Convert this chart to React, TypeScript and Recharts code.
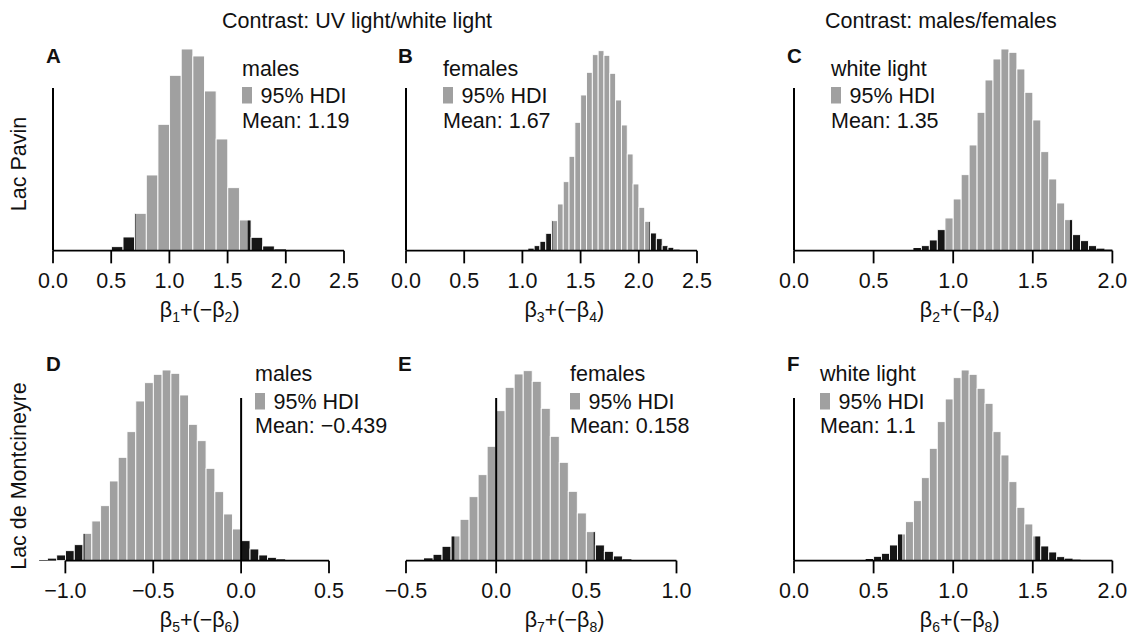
import React from 'react';
import { ComposedChart, Bar, XAxis, YAxis, ReferenceLine } from 'recharts';

const FONT = '"Liberation Sans", Arial, Helvetica, sans-serif';
const GRAY = '#a0a0a0';
const BLACK = '#161616';
const INK = '#111111';

// ---------------- data (bin lower edges, bar heights, 95% HDI) ----------------
const binsA = [0.4, 0.5, 0.6, 0.7, 0.8, 0.9, 1.0, 1.1, 1.2, 1.3, 1.4, 1.5, 1.6, 1.7, 1.8, 1.9];
const countsA = [2, 12, 41, 112, 227, 379, 526, 605, 584, 479, 335, 189, 92, 40, 14, 4];
const hdiA = [0.71, 1.67];

const binsB = [1.0, 1.05, 1.1, 1.15, 1.2, 1.25, 1.3, 1.35, 1.4, 1.45, 1.5, 1.55, 1.6, 1.65, 1.7, 1.75, 1.8, 1.85, 1.9, 1.95, 2.0, 2.05, 2.1, 2.15, 2.2, 2.25, 2.3];
const countsB = [2, 6, 15, 28, 52, 90, 140, 207, 283, 385, 467, 535, 588, 600, 586, 532, 452, 377, 290, 200, 130, 88, 53, 36, 15, 10, 3];
const hdiB = [1.26, 2.09];

const binsC = [0.7, 0.75, 0.8, 0.85, 0.9, 0.95, 1.0, 1.05, 1.1, 1.15, 1.2, 1.25, 1.3, 1.35, 1.4, 1.45, 1.5, 1.55, 1.6, 1.65, 1.7, 1.75, 1.8, 1.85, 1.9, 1.95];
const countsC = [1, 8, 15, 32, 63, 98, 155, 228, 317, 415, 512, 575, 605, 595, 545, 475, 392, 297, 215, 143, 93, 48, 30, 15, 6, 3];
const hdiC = [0.955, 1.733];

const binsD = [-1.15, -1.1, -1.05, -1.0, -0.95, -0.9, -0.85, -0.8, -0.75, -0.7, -0.65, -0.6, -0.55, -0.5, -0.45, -0.4, -0.35, -0.3, -0.25, -0.2, -0.15, -0.1, -0.05, 0.0, 0.05, 0.1, 0.15, 0.2];
const countsD = [2, 6, 17, 30, 48, 82, 119, 165, 239, 310, 387, 479, 534, 559, 572, 562, 497, 409, 360, 277, 207, 140, 95, 60, 35, 17, 10, 4];
const hdiD = [-0.89, 0.0];

const binsE = [-0.45, -0.4, -0.35, -0.3, -0.25, -0.2, -0.15, -0.1, -0.05, 0.0, 0.05, 0.1, 0.15, 0.2, 0.25, 0.3, 0.35, 0.4, 0.45, 0.5, 0.55, 0.6, 0.65, 0.7, 0.75];
const countsE = [2, 7, 19, 43, 74, 124, 192, 258, 343, 450, 520, 560, 570, 538, 457, 373, 295, 208, 143, 87, 47, 28, 14, 4, 1];
const hdiE = [-0.23, 0.54];

const binsF = [0.4, 0.45, 0.5, 0.55, 0.6, 0.65, 0.7, 0.75, 0.8, 0.85, 0.9, 0.95, 1.0, 1.05, 1.1, 1.15, 1.2, 1.25, 1.3, 1.35, 1.4, 1.45, 1.5, 1.55, 1.6, 1.65, 1.7, 1.75];
const countsF = [2, 5, 13, 22, 47, 80, 117, 180, 249, 337, 417, 485, 549, 572, 559, 517, 472, 387, 317, 237, 160, 110, 74, 44, 26, 12, 6, 3];
const hdiF = [0.68, 1.515];

const compValue = 0;
const compLineHeight = 488;

const ticksA = [0, 0.5, 1, 1.5, 2, 2.5];
const ticksB = [0, 0.5, 1, 1.5, 2, 2.5];
const ticksC = [0, 0.5, 1, 1.5, 2];
const ticksD = [-1, -0.5, 0, 0.5];
const ticksE = [-0.5, 0, 0.5, 1];
const ticksF = [0, 0.5, 1, 1.5, 2];

const letters = ['A', 'B', 'C', 'D', 'E', 'F'];
const groups = ['males', 'females', 'white light', 'males', 'females', 'white light'];
const means = ['1.19', '1.67', '1.35', '\u22120.439', '0.158', '1.1'];
const xSubs = [['1', '2'], ['3', '4'], ['2', '4'], ['5', '6'], ['7', '8'], ['6', '8']];
const columnTitles = ['Contrast: UV light/white light', 'Contrast: males/females'];
const rowTitles = ['Lac Pavin', 'Lac de Montcineyre'];

// ---------------- layout ----------------
const W = 1129;
const H = 634;
const Y_MAX = 620;
const PLOT_H = Y_MAX / 3;
const ROW_BASE = [250.7, 560.7];
const MT = 10;
const ML = 30;
const MR = 30;
const AXIS_H = 76;
const FS = 21.5;

type Panel = {
  bins: number[]; counts: number[]; bw: number; hdi: number[]; domain: [number, number];
  ticks: number[]; px: [number, number]; row: number; labelX: number; letterX: number; legendX: number;
};

const panels: Panel[] = [
  { bins: binsA, counts: countsA, bw: 0.1, hdi: hdiA, domain: [0, 2.5], ticks: ticksA, px: [53.3, 344.3], row: 0, labelX: 200, letterX: 46, legendX: 242 },
  { bins: binsB, counts: countsB, bw: 0.05, hdi: hdiB, domain: [0, 2.5], ticks: ticksB, px: [405.7, 696.7], row: 0, labelX: 564, letterX: 398, legendX: 443 },
  { bins: binsC, counts: countsC, bw: 0.05, hdi: hdiC, domain: [0, 2.0], ticks: ticksC, px: [794.3, 1112.7], row: 0, labelX: 960, letterX: 787, legendX: 831 },
  { bins: binsD, counts: countsD, bw: 0.05, hdi: hdiD, domain: [-1.15, 0.5], ticks: ticksD, px: [39.3, 329.3], row: 1, labelX: 200, letterX: 46, legendX: 255 },
  { bins: binsE, counts: countsE, bw: 0.05, hdi: hdiE, domain: [-0.5, 1.0], ticks: ticksE, px: [405.5, 676.0], row: 1, labelX: 564, letterX: 398, legendX: 570 },
  { bins: binsF, counts: countsF, bw: 0.05, hdi: hdiF, domain: [0, 2.0], ticks: ticksF, px: [794.3, 1112.7], row: 1, labelX: 960, letterX: 787, legendX: 820 },
];

const LEGEND_BASE = [[75.5, 103, 128], [381, 408.5, 432.5]];
const SQUARE_Y = [[87, 103.5], [393, 409.5]];
const LETTER_BASE = [63, 371];

const fmt = (v: number) => {
  const s = Math.abs(v).toFixed(1);
  return v < 0 ? '\u2212' + s : s;
};

const makeShape = (bw: number, ppu: number, hdi: number[]) => (p: any) => {
  const { x, width, y, height, payload } = p;
  if (payload == null || !isFinite(x) || !isFinite(y) || !isFinite(height)) return <g />;
  const c = x + width / 2;
  const lo = payload.lo;
  const hi = payload.lo + bw;
  const mid = payload.mid;
  const px = (v: number) => c + (v - mid) * ppu;
  const segs: [number, number, string][] = [];
  if (lo < hdi[0]) segs.push([lo, Math.min(hi, hdi[0]), BLACK]);
  if (hi > hdi[0] && lo < hdi[1]) segs.push([Math.max(lo, hdi[0]), Math.min(hi, hdi[1]), GRAY]);
  if (hi > hdi[1]) segs.push([Math.max(lo, hdi[1]), hi, BLACK]);
  return (
    <g>
      {segs.map(([a, b, col], i) => (
        <rect key={i} x={px(a)} y={y} width={Math.max(0, px(b) - px(a))} height={height} fill={col} />
      ))}
      {height > 3 && (
        <rect x={px(lo)} y={y} width={bw * ppu} height={height} fill="none" stroke="#ffffff" strokeWidth={0.9} />
      )}
    </g>
  );
};

const XLabel = (props: any) => {
  const { viewBox, subA, subB, dx } = props;
  if (!viewBox) return null;
  const cx = viewBox.x + viewBox.width / 2 + dx;
  const y = viewBox.y + 66.6;
  return (
    <text x={cx} y={y} textAnchor="middle" fontFamily={FONT} fontSize={FS} fill={INK}>
      <tspan>β</tspan>
      <tspan fontSize={14} dy={5}>{subA}</tspan>
      <tspan dy={-5}>+(−β</tspan>
      <tspan fontSize={14} dy={5}>{subB}</tspan>
      <tspan dy={-5}>)</tspan>
    </text>
  );
};

const TickLabel = (props: any) => {
  const { x, y, payload } = props;
  return (
    <text x={x} y={y + 24.3} textAnchor="middle" fontFamily={FONT} fontSize={FS} fill={INK}>
      {fmt(payload.value)}
    </text>
  );
};

const HistPanel = ({ p, idx }: { p: Panel; idx: number }) => {
  const data = p.bins.map((lo, i) => ({ lo, mid: lo + p.bw / 2, count: p.counts[i] }));
  const plotW = p.px[1] - p.px[0];
  const ppu = plotW / (p.domain[1] - p.domain[0]);
  const base = ROW_BASE[p.row];
  const left = p.px[0] - ML;
  const top = base - PLOT_H - MT;
  const width = plotW + ML + MR;
  const height = MT + PLOT_H + AXIS_H;
  const dx = p.labelX - (p.px[0] + p.px[1]) / 2;
  return (
    <div style={{ position: 'absolute', left, top, width, height }}>
      <ComposedChart
        width={width}
        height={height}
        data={data}
        margin={{ top: MT, right: MR, left: ML, bottom: 0 }}
        barCategoryGap={0}
        barGap={0}
      >
        <XAxis
          type="number"
          dataKey="mid"
          domain={p.domain}
          ticks={p.ticks}
          interval={0}
          axisLine={false}
          tickLine={{ stroke: '#000', strokeWidth: 1.8 }}
          tickSize={12.7}
          tickMargin={0}
          height={AXIS_H}
          tick={<TickLabel />}
          label={<XLabel subA={xSubs[idx][0]} subB={xSubs[idx][1]} dx={dx} />}
        />
        <YAxis type="number" domain={[0, Y_MAX]} hide />
        <Bar dataKey="count" isAnimationActive={false} shape={makeShape(p.bw, ppu, p.hdi)} />
        <ReferenceLine
          segment={[{ x: p.ticks[0], y: 0 }, { x: p.ticks[p.ticks.length - 1], y: 0 }]}
          stroke="#000"
          strokeWidth={1.8}
        />
        <ReferenceLine
          segment={[{ x: compValue, y: 0 }, { x: compValue, y: compLineHeight }]}
          stroke="#000"
          strokeWidth={2}
        />
      </ComposedChart>
    </div>
  );
};

const Overlay = () => (
  <svg width={W} height={H} style={{ position: 'absolute', left: 0, top: 0, pointerEvents: 'none' }}>
    <g fontFamily={FONT} fontSize={FS} fill={INK}>
      <text x={222} y={28}>{columnTitles[0]}</text>
      <text x={825} y={28}>{columnTitles[1]}</text>
      <text transform="translate(25.7,164) rotate(-90)" textAnchor="middle">{rowTitles[0]}</text>
      <text transform="translate(25.7,476) rotate(-90)" textAnchor="middle">{rowTitles[1]}</text>
      {panels.map((p, i) => (
        <g key={i}>
          <text x={p.letterX} y={LETTER_BASE[p.row]} fontWeight="bold" fontSize={20.5}>{letters[i]}</text>
          <text x={p.legendX} y={LEGEND_BASE[p.row][0]}>{groups[i]}</text>
          <rect x={p.legendX} y={SQUARE_Y[p.row][0]} width={10} height={SQUARE_Y[p.row][1] - SQUARE_Y[p.row][0]} fill={GRAY} />
          <text x={p.legendX + 18.5} y={LEGEND_BASE[p.row][1]}>95% HDI</text>
          <text x={p.legendX} y={LEGEND_BASE[p.row][2]}>{'Mean: ' + means[i]}</text>
        </g>
      ))}
    </g>
  </svg>
);

export default function App() {
  return (
    <div
      style={{
        position: 'absolute', left: 0, top: 0, width: W, height: H, overflow: 'hidden',
        background: '#fff', fontFamily: FONT,
      }}
    >
      {panels.map((p, i) => (
        <HistPanel key={i} p={p} idx={i} />
      ))}
      <Overlay />
    </div>
  );
}
